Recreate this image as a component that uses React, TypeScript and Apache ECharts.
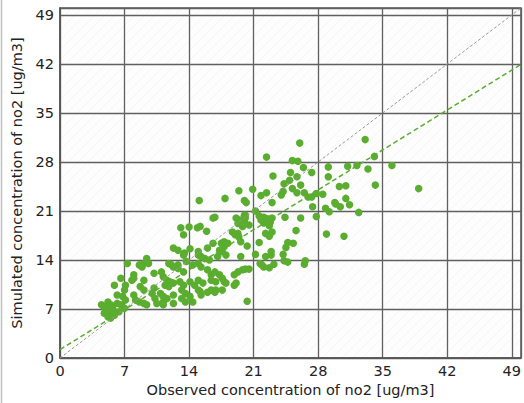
import React, { useEffect, useRef } from "react";
import * as echarts from "echarts";

const observed: number[] = [
  33.1, 26.0, 22.4, 34.1, 36.0, 25.2, 25.8, 26.4, 29.1, 31.2, 32.2, 33.4, 23.1, 25.0, 27.3, 29.1, 25.7, 24.9, 24.3, 26.1,
  34.2, 38.9, 30.3, 31.0, 25.2, 25.7, 24.2, 24.0, 22.4, 21.8, 26.5, 26.9, 27.3, 27.8, 28.5, 31.0, 20.9, 23.0, 29.8, 30.4,
  31.4, 27.4, 28.8, 29.2, 21.2, 21.6, 22.1, 23.0, 24.4, 26.1, 27.8, 32.4, 29.9, 21.8, 22.1, 22.7, 23.0, 25.6, 28.9, 30.8,
  22.3, 22.7, 21.6, 24.7, 25.3, 24.5, 22.9, 22.9, 24.2, 26.6, 26.5, 24.3, 24.7, 21.9, 22.7, 23.2, 16.6, 19.5, 19.3, 20.0,
  19.8, 22.5, 22.8, 15.2, 15.9, 18.7, 19.0, 19.4, 19.6, 16.6, 16.0, 17.5, 17.8, 18.2, 20.3, 17.6, 18.0, 17.1, 15.0, 15.3,
  15.7, 15.0, 19.6, 21.2, 22.3, 21.7, 22.1, 15.3, 16.0, 16.4, 16.8, 19.8, 20.1, 20.5, 19.3, 18.9, 17.3, 17.6, 17.8, 16.4,
  15.5, 15.0, 16.9, 18.0, 18.9, 15.2, 16.0, 16.8, 20.3, 13.1, 14.0, 14.9, 13.4, 12.3, 12.8, 14.1, 13.4, 9.4, 9.1, 9.6,
  8.6, 7.3, 11.8, 12.3, 13.7, 14.4, 12.8, 13.4, 10.2, 8.0, 7.8, 6.6, 11.2, 11.6, 11.9, 11.4, 11.8, 12.3, 13.0, 13.4,
  14.1, 14.6, 5.9, 7.1, 7.0, 8.7, 9.1, 10.2, 10.0, 10.9, 11.2, 11.6, 12.3, 13.2, 13.6, 13.2, 15.0, 15.3, 6.2, 6.8,
  7.1, 6.2, 8.0, 8.2, 8.6, 9.1, 9.4, 10.3, 10.5, 11.2, 11.2, 12.3, 13.6, 14.4, 5.2, 5.5, 5.7, 4.8, 4.5, 5.0,
  5.9, 5.3, 6.6, 7.0, 6.4, 4.8, 5.2, 5.5, 5.9, 8.9, 8.0, 9.1, 11.0, 12.1, 12.8, 13.5, 15.0, 16.2, 17.3, 17.8,
  19.3, 20.1, 20.5, 19.1, 16.4, 16.9, 17.6, 14.1, 15.1, 17.9, 19.4, 20.0, 20.2, 16.8, 19.1, 20.0, 20.1,
];

const simulated: number[] = [
  31.2, 30.7, 28.7, 28.8, 27.5, 28.2, 28.1, 27.2, 27.3, 27.4, 27.5, 27.0, 26.0, 26.5, 26.5, 25.9, 25.9, 25.4, 24.9, 24.7,
  24.7, 24.2, 24.5, 24.6, 24.2, 23.6, 23.8, 23.3, 23.6, 23.2, 23.6, 23.0, 23.0, 23.5, 23.4, 22.8, 24.1, 22.2, 22.2, 21.6,
  21.9, 21.6, 21.4, 20.9, 21.0, 20.3, 20.1, 20.0, 20.1, 20.0, 20.2, 20.8, 22.0, 19.7, 19.3, 18.9, 18.0, 18.2, 17.7, 17.4,
  17.8, 17.4, 16.5, 16.5, 16.4, 15.8, 15.2, 14.7, 14.8, 13.9, 13.4, 13.9, 13.7, 13.3, 12.9, 13.4, 20.0, 19.7, 19.2, 19.5,
  18.8, 19.9, 19.4, 18.8, 18.1, 18.0, 17.6, 17.3, 16.6, 16.4, 15.7, 16.4, 15.9, 16.4, 16.0, 15.2, 14.7, 14.5, 15.2, 14.5,
  14.2, 13.5, 14.5, 14.8, 14.5, 13.5, 13.0, 13.0, 12.6, 11.9, 12.3, 12.6, 12.7, 12.7, 12.3, 11.9, 11.9, 11.4, 10.9, 11.1,
  10.7, 11.1, 10.9, 10.7, 10.4, 9.5, 9.4, 9.4, 8.1, 18.6, 18.7, 18.6, 17.6, 15.7, 15.4, 15.6, 14.7, 14.2, 13.5, 13.5,
  13.3, 13.5, 13.5, 13.0, 13.8, 13.3, 12.8, 12.3, 12.1, 11.9, 11.1, 11.4, 11.6, 11.1, 10.9, 10.4, 10.2, 10.7, 10.9, 10.4,
  10.9, 10.4, 10.4, 10.4, 9.7, 10.2, 9.7, 10.0, 9.2, 9.2, 8.8, 8.5, 9.0, 9.7, 9.2, 8.5, 9.7, 9.0, 9.0, 8.8,
  8.3, 7.8, 9.0, 8.3, 8.0, 7.8, 7.6, 8.5, 7.8, 8.0, 7.6, 7.8, 8.0, 8.0, 8.0, 7.6, 7.1, 7.3, 7.6, 6.9,
  6.6, 6.4, 7.6, 7.1, 6.6, 6.4, 5.9, 5.7, 6.1, 13.0, 11.4, 11.1, 12.3, 13.3, 13.3, 15.0, 14.7, 14.0, 15.4, 16.6,
  17.8, 20.4, 19.0, 10.7, 9.7, 9.7, 9.7, 8.8, 22.5, 22.8, 23.9, 22.5, 22.2, 20.1, 20.0, 20.4, 20.0,
];

const tickValues: number[] = [0, 7, 14, 21, 28, 35, 42, 49];
const axisMin = 0;
const axisMax = 50;
const identityLine: number[][] = [[0, 0], [50, 50]];
const fitLine: number[][] = [[0, 1.2], [50, 41.95]];

const xTitle = "Observed concentration of no2 [ug/m3]";
const yTitle = "Simulated concentration of no2 [ug/m3]";

const GREEN = "#5aad2f";
const FONT = "DejaVu Sans";

function makeHatch(): string {
  const c = document.createElement("canvas");
  c.width = 10;
  c.height = 10;
  const ctx = c.getContext("2d");
  if (ctx) {
    ctx.fillStyle = "#fdfdfd";
    ctx.fillRect(0, 0, 10, 10);
    ctx.strokeStyle = "rgba(0,0,0,0.03)";
    ctx.lineWidth = 1;
    ctx.beginPath();
    ctx.moveTo(-1, 11);
    ctx.lineTo(11, -1);
    ctx.stroke();
  }
  return c.toDataURL();
}

export default function App() {
  const ref = useRef<HTMLDivElement>(null);
  useEffect(() => {
    if (!ref.current) return;
    const chart = echarts.init(ref.current, undefined, { renderer: "svg" });
    const points = observed.map((o, i) => [o, simulated[i]]);
    const axisCommon = {
      type: "value" as const,
      min: axisMin,
      max: axisMax,
      interval: 7,
      nameLocation: "middle" as const,
      nameTextStyle: { fontFamily: FONT, fontSize: 14.5, color: "#222" },
      axisLine: { show: true, lineStyle: { color: "#555", width: 1.5 } },
      axisTick: { show: false },
      splitLine: { show: true, lineStyle: { color: "#606060", width: 1.3 } },
    };
    const labelCommon = {
      fontFamily: FONT,
      fontSize: 14.5,
      color: "#222",
      showMaxLabel: false,
      formatter: (v: number) => (tickValues.includes(v) ? String(v) : ""),
    };
    chart.setOption({
      animation: false,
      backgroundColor: "#ffffff",
      grid: {
        left: 60,
        top: 8,
        width: 467,
        height: 350,
        show: true,
        borderWidth: 1.5,
        borderColor: "#555",
        backgroundColor: { image: makeHatch(), repeat: "repeat" },
      },
      xAxis: {
        ...axisCommon,
        name: xTitle,
        nameGap: 22,
        axisLabel: { ...labelCommon, margin: 5 },
      },
      yAxis: {
        ...axisCommon,
        name: yTitle,
        nameGap: 32,
        axisLabel: { ...labelCommon, margin: 6 },
      },
      graphic: [
        {
          type: "line",
          shape: { x1: 1.5, y1: 0, x2: 1.5, y2: 403 },
          style: { stroke: "#c0c0c0", lineWidth: 1.5 },
          silent: true,
        },
      ],
      series: [
        {
          type: "scatter",
          data: points,
          symbolSize: 7.5,
          itemStyle: { color: GREEN, opacity: 1 },
          z: 2,
        },
        {
          type: "line",
          data: identityLine,
          symbol: "none",
          lineStyle: { color: "#999", width: 1, type: [3, 2] },
          z: 3,
        },
        {
          type: "line",
          data: fitLine,
          symbol: "none",
          lineStyle: { color: GREEN, width: 1.5, type: [5, 3] },
          z: 3,
        },
      ],
    });
    return () => chart.dispose();
  }, []);
  return (
    <div
      ref={ref}
      style={{ position: "fixed", left: 0, top: 0, width: 524, height: 403 }}
    />
  );
}
